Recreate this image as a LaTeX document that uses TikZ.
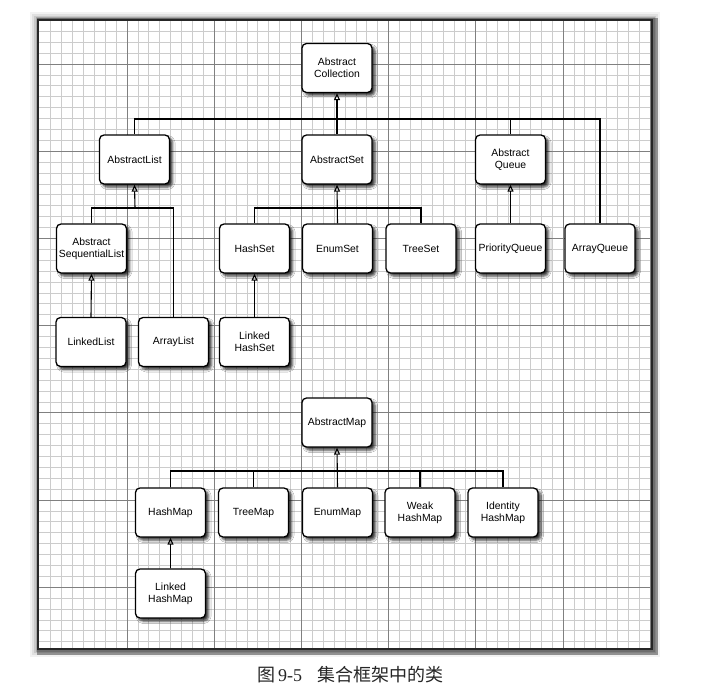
\documentclass[tikz,border=0pt]{standalone}
\usepackage{fontspec}
\setmainfont{Liberation Sans}
\newfontfamily\cjk{Noto Sans CJK SC}
\newfontfamily\capserif{Liberation Serif}
\usetikzlibrary{arrows.meta,shadows.blur}
\begin{document}
\begin{tikzpicture}[x=1pt,y=-1pt,
  cls/.style={draw=black, line width=1.3pt, fill=white, rounded corners=4.5pt,
    minimum width=70pt, minimum height=49pt, inner sep=0pt, align=center,
    font=\fontsize{10.4}{12}\selectfont,
    blur shadow={shadow xshift=3pt, shadow yshift=-3pt, shadow blur radius=2.5pt, shadow opacity=80}},
  conn/.style={line width=1.1pt, draw=black},
  inh/.style={conn, -{Triangle[open,length=7pt,width=6pt,line width=1.1pt]}},
  minorline/.style={draw=black!20, line width=0.7pt},
  majorline/.style={draw=black!50, line width=0.8pt}]

\useasboundingbox (0,0) rectangle (707,687);
\fill[white] (0,0) rectangle (707,687);

% frame glow and shadow
\foreach \w/\o in {16/0.05,12/0.07,8/0.1,5/0.16}
  \draw[line width=\w pt, black, opacity=\o] (38,20) rectangle (652,649);
\draw[line width=7pt, black, opacity=0.35] (40,22) rectangle (654,651);

% grid
\begin{scope}
\clip (38,20) rectangle (652,649);
\fill[white] (38,20) rectangle (652,649);
\foreach \i in {1,...,57} \draw[minorline] ({39.8+10.9*\i},20) -- ({39.8+10.9*\i},649);
\foreach \i in {1,...,58} \draw[minorline] (38,{20.4+10.9*\i}) -- (652,{20.4+10.9*\i});
\foreach \k in {1,...,7} \draw[majorline] ({39.8+87.2*\k},20) -- ({39.8+87.2*\k},649);
\foreach \k in {0,...,6} \draw[majorline] (38,{64+87.2*\k}) -- (652,{64+87.2*\k});
\end{scope}
\draw[line width=2.4pt, black!85] (38,20) rectangle (652,649);

% collection hierarchy
\node[cls] (AC) at (337,68) {Abstract\\Collection};
\node[cls] (AL) at (134.5,159.5) {AbstractList};
\node[cls] (AS) at (337,159.5) {AbstractSet};
\node[cls] (AQ) at (510.5,159.5) {Abstract\\Queue};
\node[cls] (ASL) at (91.5,248.5) {Abstract\\SequentialList};
\node[cls] (HS) at (254.5,248.5) {HashSet};
\node[cls] (ES) at (337.5,248.5) {EnumSet};
\node[cls] (TS) at (421,248.5) {TreeSet};
\node[cls] (PQ) at (510.5,248.5) {PriorityQueue};
\node[cls] (ArQ) at (600,248.5) {ArrayQueue};
\node[cls] (LL) at (91,342) {LinkedList};
\node[cls] (ArL) at (173.5,342) {ArrayList};
\node[cls] (LHS) at (254.5,342) {Linked\\HashSet};

% map hierarchy
\node[cls] (AM) at (337,422.5) {AbstractMap};
\node[cls] (HM) at (170.5,512.5) {HashMap};
\node[cls] (TM) at (253.5,512.5) {TreeMap};
\node[cls] (EM) at (337.5,512.5) {EnumMap};
\node[cls] (WHM) at (420,512.5) {Weak\\HashMap};
\node[cls] (IHM) at (503,512.5) {Identity\\HashMap};
\node[cls] (LHM) at (170.5,593.5) {Linked\\HashMap};

% bus coordinates
\coordinate (b1) at (337,119);
\coordinate (b2) at (135,208);
\coordinate (b3) at (337,208);
\coordinate (b4) at (337,471);

% connectors: collection
\draw[inh] (AS.north) -- (AC.south);
\draw[conn] (AL.north) |- (b1) -| (ArQ.north);
\draw[conn] (AQ.north) -- (AQ.north |- b1);

\draw[inh] (b2) -- (AL.south);
\draw[conn] (ASL.north) |- (b2) -| (ArL.north);

\draw[inh] (ES.north) -- (AS.south);
\draw[conn] (HS.north) |- (b3) -| (TS.north);

\draw[inh] (PQ.north) -- (AQ.south);
\draw[inh] (LL.north) -- (ASL.south);
\draw[inh] (LHS.north) -- (HS.south);

% connectors: map
\draw[inh] (EM.north) -- (AM.south);
\draw[conn] (HM.north) |- (b4) -| (IHM.north);
\draw[conn] (TM.north) -- (TM.north |- b4);
\draw[conn] (WHM.north) -- (WHM.north |- b4);
\draw[inh] (LHM.north) -- (HM.south);

% caption
\node[anchor=west, inner sep=0pt, font=\fontsize{18}{20}\selectfont, text=black!85] (cap) at (257,675)
  {{\cjk 图}\hspace{3pt}{\capserif 9-5}\hspace{15pt}{\cjk 集合框架中的类}};
\end{tikzpicture}
\end{document}
